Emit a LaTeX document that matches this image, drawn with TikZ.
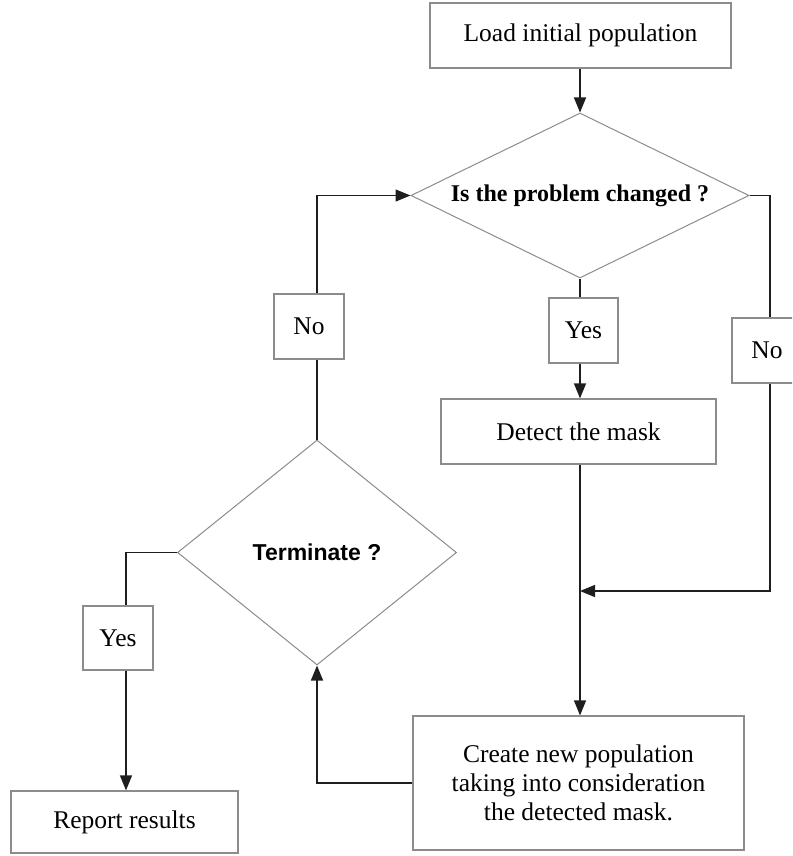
\documentclass[tikz,border=0pt]{standalone}
\usepackage{fontspec}
\setmainfont{Liberation Serif}
\newfontfamily\qsans{Liberation Sans}
\usetikzlibrary{shapes.geometric,arrows.meta}
\definecolor{boxgray}{RGB}{140,140,140}
\definecolor{linec}{RGB}{30,30,30}
\begin{document}
\begin{tikzpicture}[x=1pt,y=-1pt,
  box/.style={draw=boxgray, line width=1.2pt, fill=white, rectangle, inner sep=0pt, align=center, font=\fontsize{25.5}{29}\selectfont},
  dia/.style={draw=boxgray, line width=1pt, fill=white, diamond, inner sep=0pt},
  conn/.style={draw=linec, line width=1.4pt},
  arr/.style={conn, -{Triangle[length=15pt,width=12pt]}}]
\useasboundingbox (0,0) rectangle (792,856);
\clip (0,0) rectangle (792,856);
\node[box, minimum width=301pt, minimum height=65pt] (load) at (580.5,35.5) {Load initial population};
\node[dia, aspect=2.05, minimum width=338pt, minimum height=165pt, font=\bfseries\fontsize{24}{28}\selectfont] (q1) at (580,195.5) {Is the problem changed ?};
\node[box, minimum width=69pt, minimum height=65pt] (yes1) at (583.5,330.5) {Yes};
\node[box, minimum width=275pt, minimum height=65pt] (detect) at (578.5,431.5) {Detect the mask};
\node[box, minimum width=70pt, minimum height=65pt] (noR) at (767,350.5) {No};
\node[box, minimum width=331pt, minimum height=134pt] (create) at (578.5,783) {Create new population\\taking into consideration\\the detected mask.};
\node[box, minimum width=70pt, minimum height=65pt] (noL) at (309,326.5) {No};
\node[dia, aspect=1.24, minimum width=279pt, minimum height=225pt, font=\qsans\bfseries\fontsize{23}{27}\selectfont] (term) at (317,552.5) {Terminate ?};
\node[box, minimum width=70pt, minimum height=64pt] (yesL) at (118,638) {Yes};
\node[box, minimum width=227pt, minimum height=62pt] (report) at (124.5,822) {Report results};
\coordinate (r1) at (770,195.5);
\coordinate (r2) at (770,591);
\coordinate (j) at (580,591);
\coordinate (l1) at (317,195.5);
\coordinate (l2) at (126,552.5);
\draw[arr] (load.south -| q1.north) -- (q1.north);
\draw[conn] (q1.south) -- (q1.south |- yes1.north);
\draw[arr] (q1.south |- yes1.south) -- (q1.south |- detect.north);
\draw[arr] (detect.south -| j) -- (create.north -| j);
\draw[conn] (q1.east) -- (r1) -- (r1 |- noR.north);
\draw[arr] (r1 |- noR.south) -- (r2) -- (j);
\draw[conn] (term.north) -- (term.north |- noL.south);
\draw[arr] (term.north |- noL.north) -- (l1) -- (q1.west);
\draw[arr] (create.west) -- (create.west -| term.south) -- (term.south);
\draw[conn] (term.west) -- (l2) -- (l2 |- yesL.north);
\draw[arr] (l2 |- yesL.south) -- (l2 |- report.north);
\end{tikzpicture}
\end{document}
